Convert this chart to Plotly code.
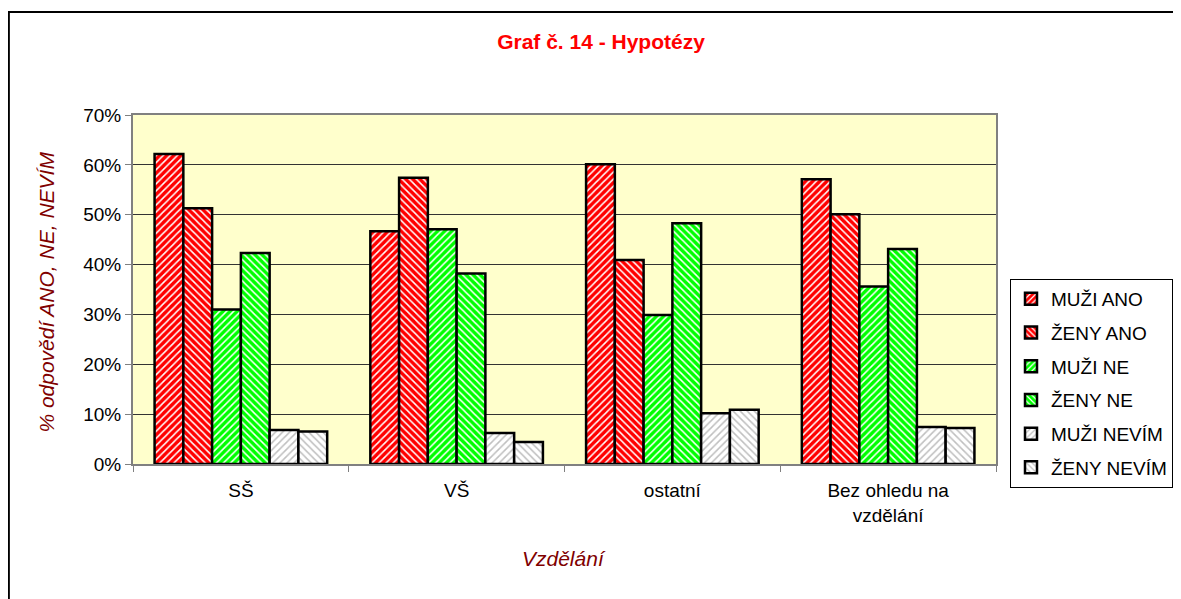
import plotly.graph_objects as go

categories = ["SŠ", "VŠ", "ostatní", "Bez ohledu na<br>vzdělání"]
series_names = ["MUŽI ANO", "ŽENY ANO", "MUŽI NE", "ŽENY NE", "MUŽI NEVÍM", "ŽENY NEVÍM"]
muzi_ano = [62.2, 46.7, 60.1, 57.1]
zeny_ano = [51.3, 57.4, 40.9, 50.1]
muzi_ne = [31.0, 47.1, 29.9, 35.6]
zeny_ne = [42.3, 38.2, 48.3, 43.1]
muzi_nevim = [6.8, 6.2, 10.2, 7.4]
zeny_nevim = [6.5, 4.4, 10.9, 7.2]
y_ticks = [0, 10, 20, 30, 40, 50, 60, 70]

series_values = [muzi_ano, zeny_ano, muzi_ne, zeny_ne, muzi_nevim, zeny_nevim]
styles = [
    ("#FF0000", "white", "/"),
    ("#FF0000", "white", "\\"),
    ("#00FF00", "white", "/"),
    ("#00FF00", "white", "\\"),
    ("white", "#BFBFBF", "/"),
    ("white", "#BFBFBF", "\\"),
]

fig = go.Figure()
for name, vals, (bg, fg, shp) in zip(series_names, series_values, styles):
    fig.add_trace(go.Bar(
        name=name, x=categories, y=vals, legendgroup=name,
        marker=dict(
            color=bg,
            line=dict(color="black", width=2.5),
            pattern=dict(shape=shp, bgcolor=bg, fgcolor=fg, size=5, solidity=0.3, fillmode="replace"),
        ),
    ))

OFF = 8  # page body margin
W, H = 1181 - OFF, 599 - OFF
L, R, T, B = 133 - OFF, 1002 - OFF, 115 - OFF, 464 - OFF
pw, ph = R - L, B - T

def px_x(p):
    return (p - OFF - L) / pw

def px_y(p):
    return (B - (p - OFF)) / ph

def cx(p):
    return (p - OFF) / W

def cy(p):
    return 1 - (p - OFF) / H

FONT = "Arial, Liberation Sans, sans-serif"

fig.update_layout(
    width=W, height=H,
    margin=dict(l=L, r=W - R, t=T, b=H - B),
    paper_bgcolor="white",
    plot_bgcolor="#FFFFCC",
    barmode="group",
    bargap=0.2,
    bargroupgap=0,
    font=dict(family=FONT, size=19, color="black"),
    title=dict(text="<b>Graf č. 14 - Hypotézy</b>", x=cx(601), xanchor="center",
               y=cy(42), yanchor="middle",
               font=dict(size=21, color="#FF0000", family=FONT)),
    xaxis=dict(
        showline=True, linecolor="#808080", linewidth=2, mirror=True,
        ticks="outside", tickson="boundaries", ticklen=6, tickcolor="#808080",
        tickfont=dict(size=19), ticklabelstandoff=8,
    ),
    yaxis=dict(
        range=[0, 70], tickvals=y_ticks, ticktext=[f"{v}%" for v in y_ticks],
        showgrid=True, gridcolor="#333333", gridwidth=1,
        showline=True, linecolor="#808080", linewidth=2, mirror=True,
        ticks="outside", ticklen=6, tickcolor="#808080",
        tickfont=dict(size=19),
        zeroline=False,
    ),
    legend=dict(
        xref="container", yref="container",
        x=cx(1010), y=cy(279), xanchor="left", yanchor="top",
        bordercolor="black", borderwidth=1, bgcolor="white",
        font=dict(size=19), tracegroupgap=6, itemwidth=30,
    ),
    annotations=[
        dict(text="<i>% odpovědí ANO, NE, NEVÍM</i>", xref="paper", yref="paper",
             x=px_x(45), y=px_y(292), textangle=-90, showarrow=False,
             xanchor="center", yanchor="middle",
             font=dict(size=21, color="#800000", family=FONT)),
        dict(text="<i>Vzdělání</i>", xref="paper", yref="paper",
             x=px_x(567), y=px_y(558), showarrow=False,
             xanchor="center", yanchor="middle",
             font=dict(size=21, color="#800000", family=FONT)),
    ],
    shapes=[dict(type="rect", xref="paper", yref="paper",
                 x0=px_x(8), y0=px_y(700), x1=px_x(1300), y1=px_y(12),
                 line=dict(color="black", width=2), fillcolor="rgba(0,0,0,0)", layer="below")],
)

fig.write_html("out.html")
